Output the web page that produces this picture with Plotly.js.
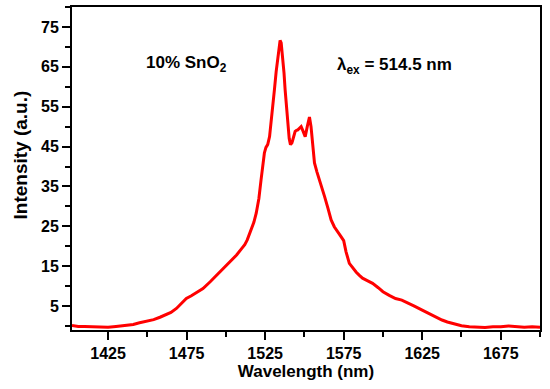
<!DOCTYPE html>
<html>
<head>
<meta charset="utf-8">
<script src="https://cdn.plot.ly/plotly-3.0.1.min.js"></script>
<style>html,body{margin:0;padding:0;background:#fff;}#chart{width:550px;height:389px;}</style>
</head>
<body>
<div id="chart"></div>
<script>
// Wavelength (nm)
const wavelength = [1402,1406,1410,1415,1420,1425,1430,1434,1437,1441,1445,1450,1454,1458,1462,1465,1468.5,1471,1474.8,1478,1481,1485.4,1490,1496.2,1500,1503,1506.8,1510,1512,1513.6,1516,1517.8,1519.3,1521,1522.4,1523.6,1524.5,1525.5,1526.6,1527.8,1528.8,1530,1530.9,1532,1533,1534,1534.5,1535.2,1536.2,1537,1537.7,1538.6,1539.4,1540.3,1541.1,1542,1542.6,1543.3,1544.1,1545,1545.8,1546.8,1547.9,1549,1550.5,1551.8,1553.2,1554.2,1555.3,1556.4,1558,1559.6,1561.2,1562.8,1565,1567,1569,1571,1573.3,1575,1576.5,1578.6,1581,1583,1585,1587,1590,1593.4,1597,1600,1604,1608,1612,1616,1620,1625,1629,1633,1637.6,1641,1645,1650,1655,1660,1665,1670,1675,1680,1685,1690,1695,1700];
// Intensity (a.u.)
const intensity = [0.1,-0.1,-0.1,-0.2,-0.2,-0.3,-0.1,0.1,0.2,0.4,0.8,1.2,1.6,2.2,2.8,3.4,4.4,5.4,6.9,7.6,8.3,9.4,11.1,13.6,15.0,16.3,17.8,19.4,20.4,21.6,24.0,26.0,28.3,32.0,36.7,40.5,43.4,44.8,45.5,47.5,50.9,55.0,59.3,63.8,67.6,70.6,71.6,71.0,67.6,63.5,59.3,54.5,50.0,47.0,45.5,45.9,46.7,47.8,48.8,49.1,49.2,49.6,50.0,49.0,47.5,50.0,52.4,50.0,45.9,40.9,38.6,36.7,34.6,32.5,29.5,26.6,24.9,23.6,22.4,21.4,18.6,15.7,14.4,13.5,12.7,12.0,11.4,10.7,9.6,8.6,7.7,6.9,6.5,5.8,5.0,4.0,3.2,2.3,1.5,1.0,0.5,0.05,-0.2,-0.3,-0.35,-0.2,-0.2,0.0,-0.2,-0.3,-0.2,-0.3];

const xTickVals = [1425,1475,1525,1575,1625,1675];
const yTickVals = [5,15,25,35,45,55,65,75];

const trace = {
  x: wavelength,
  y: intensity,
  type: 'scatter',
  mode: 'lines',
  line: {color: '#ff0000', width: 3},
  hoverinfo: 'skip'
};

const FAM = 'Liberation Sans, Arial, sans-serif';
const axisFont = {family: FAM, size: 16, color: '#000', weight: 'bold'};

const layout = {
  width: 550,
  height: 389,
  margin: {l: 72, r: 10, t: 7, b: 59},
  paper_bgcolor: '#fff',
  plot_bgcolor: '#fff',
  showlegend: false,
  font: {family: FAM, color: '#000'},
  xaxis: {
    range: [1402, 1700],
    tickvals: xTickVals,
    ticktext: xTickVals.map(String),
    ticks: 'outside',
    ticklen: 8,
    tickwidth: 2,
    tickcolor: '#000',
    minor: {ticks: 'outside', dtick: 25, tick0: 1400, ticklen: 5, tickwidth: 2, tickcolor: '#000', showgrid: false},
    showline: true,
    linecolor: '#000',
    linewidth: 2,
    mirror: true,
    showgrid: false,
    zeroline: false,
    tickfont: axisFont,
    title: {text: 'Wavelength (nm)', font: {family: FAM, size: 17, color: '#000', weight: 'bold'}, standoff: 4}
  },
  yaxis: {
    range: [-1, 80],
    tickvals: yTickVals,
    ticktext: yTickVals.map(String),
    ticks: 'outside',
    ticklen: 8,
    tickwidth: 2,
    tickcolor: '#000',
    minor: {ticks: 'outside', dtick: 5, tick0: 0, ticklen: 5, tickwidth: 2, tickcolor: '#000', showgrid: false},
    showline: true,
    linecolor: '#000',
    linewidth: 2,
    mirror: true,
    showgrid: false,
    zeroline: false,
    tickfont: axisFont
  },
  annotations: [
    {xref: 'paper', yref: 'paper', x: (19.5-72)/468, y: (330-155)/323, xanchor: 'center', yanchor: 'middle', showarrow: false,
     textangle: -90, text: 'Intensity (a.u.)', font: {family: FAM, size: 19, color: '#000', weight: 'bold'}},
    {xref: 'paper', yref: 'paper', x: (186-72)/468, y: (330-64)/323, xanchor: 'center', yanchor: 'middle', showarrow: false,
     text: '10% SnO<sub>2</sub>', font: {family: FAM, size: 17, color: '#000', weight: 'bold'}},
    {xref: 'paper', yref: 'paper', x: (394-72)/468, y: (330-66)/323, xanchor: 'center', yanchor: 'middle', showarrow: false,
     text: 'λ<sub>ex</sub> = 514.5 nm', font: {family: FAM, size: 17, color: '#000', weight: 'bold'}}
  ]
};

Plotly.newPlot('chart', [trace], layout, {displayModeBar: false, staticPlot: true});
</script>
</body>
</html>
